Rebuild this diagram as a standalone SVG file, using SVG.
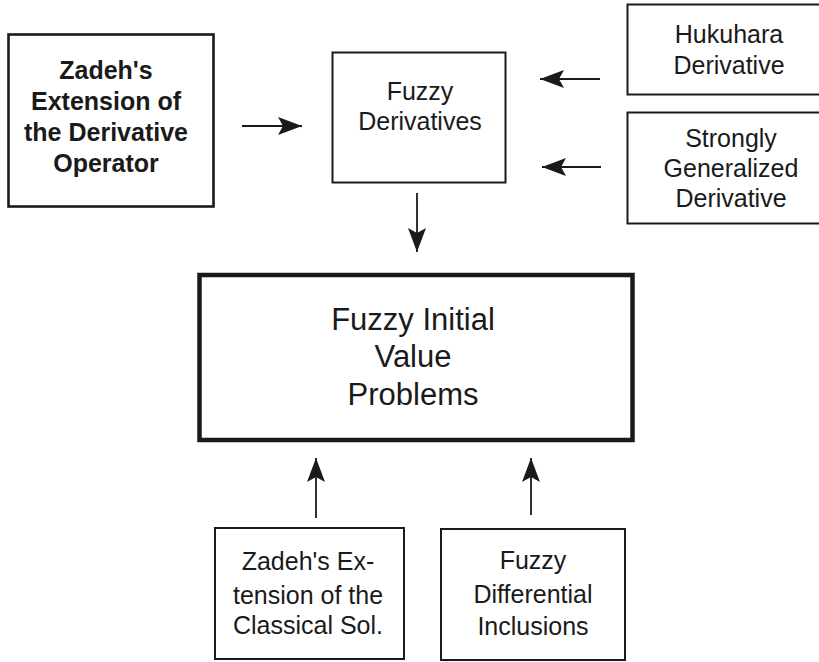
<svg xmlns="http://www.w3.org/2000/svg" width="819" height="662" viewBox="0 0 819 662">
<defs>
<style>
.box{fill:#fff;stroke:#1a1a1a;stroke-width:2}
.t{font-family:"Liberation Sans",Arial,sans-serif;font-size:25px;fill:#1a1a1a;text-anchor:middle}
.b{font-weight:bold}
.big{font-size:31px}
.c{stroke:#1a1a1a;stroke-width:1.8;fill:none}
</style>
<marker id="ah" viewBox="0 0 24 18" refX="24" refY="9" markerWidth="24" markerHeight="18" markerUnits="userSpaceOnUse" orient="auto">
<path d="M0,0 L24,9 L0,18 L5,9 Z" fill="#1a1a1a"/>
</marker>
</defs>
<rect width="819" height="662" fill="#fff"/>
<g id="zadeh-op">
<rect class="box" x="8.5" y="34.5" width="205" height="172" style="stroke-width:2.6"/>
<text class="t b" x="106" y="79">Zadeh's</text>
<text class="t b" x="106" y="110">Extension of</text>
<text class="t b" x="106" y="141">the Derivative</text>
<text class="t b" x="106" y="172">Operator</text>
</g>
<g id="fuzzy-deriv">
<rect class="box" x="332.5" y="52.5" width="173" height="130"/>
<text class="t" x="420" y="100">Fuzzy</text>
<text class="t" x="420" y="130">Derivatives</text>
</g>
<g id="hukuhara">
<rect class="box" x="627.5" y="4.5" width="210" height="90"/>
<text class="t" x="729" y="43">Hukuhara</text>
<text class="t" x="729" y="74">Derivative</text>
</g>
<g id="strongly">
<rect class="box" x="627.5" y="112.5" width="210" height="111"/>
<text class="t" x="731" y="147">Strongly</text>
<text class="t" x="731" y="177">Generalized</text>
<text class="t" x="731" y="207">Derivative</text>
</g>
<g id="fivp">
<rect class="box" x="199.5" y="275" width="433" height="165" style="stroke-width:4.5"/>
<text class="t big" x="413" y="330">Fuzzy Initial</text>
<text class="t big" x="413" y="367">Value</text>
<text class="t big" x="413" y="405">Problems</text>
</g>
<g id="zadeh-classical">
<rect class="box" x="215" y="528" width="189" height="131"/>
<text class="t" x="308" y="570">Zadeh's Ex-</text>
<text class="t" x="308" y="604">tension of the</text>
<text class="t" x="308" y="634">Classical Sol.</text>
</g>
<g id="fdi">
<rect class="box" x="441" y="529" width="184" height="131"/>
<text class="t" x="533" y="569">Fuzzy</text>
<text class="t" x="533" y="603">Differential</text>
<text class="t" x="533" y="635">Inclusions</text>
</g>
<g id="connectors">
<line class="c" x1="242" y1="126" x2="302" y2="126" marker-end="url(#ah)"/>
<line class="c" x1="600" y1="79" x2="540" y2="79" marker-end="url(#ah)"/>
<line class="c" x1="601" y1="167" x2="542" y2="167" marker-end="url(#ah)"/>
<line class="c" x1="417" y1="193" x2="417" y2="252" marker-end="url(#ah)"/>
<line class="c" x1="316" y1="518" x2="316" y2="458" marker-end="url(#ah)"/>
<line class="c" x1="531" y1="515" x2="531" y2="458" marker-end="url(#ah)"/>
</g>
</svg>
